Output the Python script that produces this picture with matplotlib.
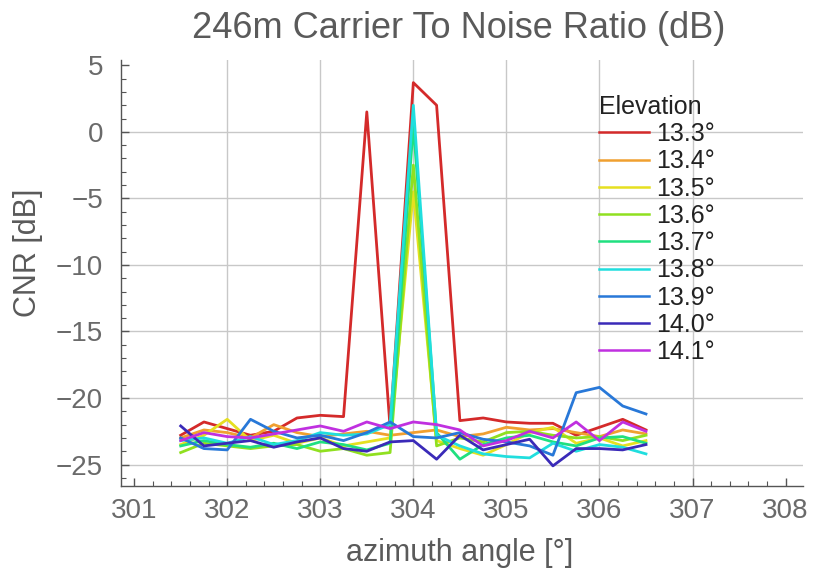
import numpy as np
import matplotlib
matplotlib.use("Agg")
import matplotlib.pyplot as plt
from matplotlib.ticker import MultipleLocator

plt.rcParams['font.family'] = ['Liberation Sans', 'DejaVu Sans']

# azimuth samples (deg)
azimuth = [301.5, 301.75, 302.0, 302.25, 302.5, 302.75, 303.0, 303.25, 303.5, 303.75,
           304.0, 304.25, 304.5, 304.75, 305.0, 305.25, 305.5, 305.75, 306.0, 306.25, 306.5]

elevations = ["13.3°", "13.4°", "13.5°", "13.6°", "13.7°", "13.8°", "13.9°", "14.0°", "14.1°"]

cnr_133 = [-22.8, -21.8, -22.3, -22.8, -22.5, -21.5, -21.3, -21.4, 1.5, -22.2,
           3.7, 2.0, -21.7, -21.5, -21.8, -21.9, -21.9, -22.8, -22.2, -21.6, -22.4]
cnr_134 = [-23.0, -22.4, -22.6, -23.0, -22.0, -22.6, -22.9, -22.7, -22.5, -22.8,
           -22.6, -22.4, -22.9, -22.7, -22.2, -22.4, -22.3, -22.6, -22.9, -22.4, -22.7]
cnr_135 = [-23.5, -22.8, -21.6, -23.2, -22.8, -23.4, -23.0, -23.6, -23.3, -23.0,
           -4.5, -23.2, -23.8, -24.3, -23.5, -22.6, -22.2, -23.4, -23.0, -23.6, -23.2]
cnr_136 = [-24.1, -23.4, -23.6, -23.8, -23.6, -23.5, -24.0, -23.8, -24.3, -24.1,
           -2.5, -23.6, -23.0, -23.3, -22.6, -22.5, -22.8, -23.0, -22.9, -23.2, -22.8]
cnr_137 = [-23.6, -23.2, -23.5, -23.7, -23.4, -23.8, -23.3, -23.5, -23.9, -23.4,
           0.5, -22.6, -24.6, -23.5, -23.0, -22.8, -23.3, -23.6, -23.0, -22.9, -23.4]
cnr_138 = [-23.2, -23.0, -23.4, -22.9, -23.5, -23.2, -22.6, -22.8, -22.7, -22.0,
           2.0, -22.8, -23.6, -24.2, -24.4, -24.5, -23.4, -24.0, -23.5, -23.7, -24.2]
cnr_139 = [-23.0, -23.8, -23.9, -21.6, -22.5, -23.0, -22.8, -23.2, -22.6, -21.8,
           -22.9, -23.0, -22.6, -23.1, -23.3, -23.6, -24.3, -19.6, -19.2, -20.6, -21.2]
cnr_140 = [-22.1, -23.6, -23.4, -23.2, -23.7, -23.3, -23.0, -23.8, -24.0, -23.3,
           -23.2, -24.6, -22.8, -23.9, -23.5, -23.1, -25.1, -23.8, -23.8, -23.9, -23.5]
cnr_141 = [-23.2, -22.6, -22.9, -23.0, -22.7, -22.4, -22.1, -22.5, -21.8, -22.3,
           -21.8, -22.0, -22.4, -23.6, -23.2, -22.5, -23.0, -21.8, -23.2, -21.8, -22.5]

series = [cnr_133, cnr_134, cnr_135, cnr_136, cnr_137, cnr_138, cnr_139, cnr_140, cnr_141]
colors = ["#d42a2a", "#f0a030", "#e6e020", "#90e020", "#20e080",
          "#20dede", "#2878d8", "#3a2ab8", "#c030e0"]

grid_x = [302, 303, 304, 305, 306, 307]
grid_y = [-25, -20, -15, -10, -5, 0]

fig = plt.figure(figsize=(8.13, 5.77), dpi=100)
ax = fig.add_axes([0.149, 0.158, 0.839, 0.738])

for gx in grid_x:
    ax.axvline(gx, color="#c8c8c8", lw=1.0, zorder=0)
for gy in grid_y:
    ax.axhline(gy, color="#c8c8c8", lw=1.0, zorder=0)

for vals, lab, c in zip(series, elevations, colors):
    ax.plot(azimuth, vals, color=c, lw=2.0, label=lab)

ax.set_xlim(300.86, 308.19)
ax.set_ylim(-26.6, 5.4)
ax.xaxis.set_major_locator(MultipleLocator(1))
ax.xaxis.set_minor_locator(MultipleLocator(0.2))
ax.yaxis.set_major_locator(MultipleLocator(5))
ax.yaxis.set_minor_locator(MultipleLocator(1))

for s in ["top", "right"]:
    ax.spines[s].set_visible(False)
for s in ["left", "bottom"]:
    ax.spines[s].set_color("#555555")
    ax.spines[s].set_linewidth(1.0)

ax.tick_params(which="both", direction="in", colors="#555555", labelcolor="#6a6a6a")
ax.tick_params(which="major", length=6, width=1.0, labelsize=20)
ax.tick_params(which="minor", length=3.5, width=0.8)
ax.tick_params(axis="y", which="major", pad=13)
ax.tick_params(axis="x", which="major", pad=9)

fig.text(459/813, 1 - 29/577, "246m Carrier To Noise Ratio (dB)",
         ha="center", va="center", fontsize=26, color="#5a5a5a")
fig.text(460/813, 1 - 553/577, "azimuth angle [°]",
         ha="center", va="center", fontsize=22, color="#5a5a5a")
fig.text(28/813, 1 - 253/577, "CNR [dB]", rotation=90,
         ha="center", va="center", fontsize=22, color="#5a5a5a")

leg = ax.legend(title="Elevation", loc="upper left",
                bbox_to_anchor=(599/813, 1 - 95/577), bbox_transform=fig.transFigure,
                frameon=False, fontsize=18, title_fontsize=18, alignment="left",
                handlelength=2.0, handletextpad=0.28, labelspacing=0.13,
                borderpad=0, borderaxespad=0)
for line in leg.get_lines():
    line.set_linewidth(1.8)
for t in leg.get_texts():
    t.set_color("#222222")
leg.get_title().set_color("#222222")

fig.savefig("out.png", dpi=100)
